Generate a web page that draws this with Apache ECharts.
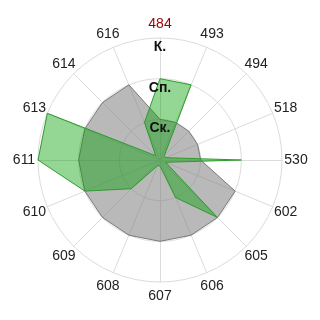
<!DOCTYPE html>
<html><head><meta charset="utf-8">
<script src="https://cdn.jsdelivr.net/npm/echarts@6/dist/echarts.min.js"></script>
<style>html,body{margin:0;padding:0;background:#fff}#c{width:320px;height:320px}</style>
</head><body><div id="c"></div>
<script>
const categories = ['484','493','494','518','530','602','605','606','607','608','609','610','611','613','614','616'];
const grayValues = [1,1,1,1,1,2,2,2,2,2,2,2,2,2,2,2];
const greenValues = [2,2,0.15,0.15,2,0.15,2,1,0.15,0.15,1,2,3,3,0.15,1];
const levelLabels = ['', 'Ск.', 'Сп.', 'К.'];
const highlightCategory = '484';

// radar places indicators counter-clockwise; reorder so the picture runs clockwise
const order = [0].concat(categories.map((_, i) => i).slice(1).reverse());
const pick = arr => order.map(i => arr[i]);

const common = {
  center: ['50%', '50%'],
  radius: 122,
  startAngle: 90,
  shape: 'circle',
  splitNumber: 3,
  nameGap: 14
};

const chart = echarts.init(document.getElementById('c'), null, {renderer: 'canvas'});
chart.setOption({
  animation: false,
  backgroundColor: '#fff',
  radar: [
    Object.assign({}, common, {
      z: 1,
      indicator: pick(categories).map(c => {
        const ind = {name: c, min: 0, max: 3};
        if (c === highlightCategory) ind.color = '#990000';
        return ind;
      }),
      axisName: {color: '#222', fontSize: 14, fontFamily: 'Liberation Sans, Arial, sans-serif', align: 'center', verticalAlign: 'middle'},
      splitArea: {show: false},
      splitLine: {lineStyle: {color: '#dcdcdc', width: 1}},
      axisLine: {lineStyle: {color: '#dcdcdc', width: 1}},
      axisTick: {show: false},
      axisLabel: {show: false}
    }),
    Object.assign({}, common, {
      z: 10,
      indicator: pick(categories).map((c, k) => {
        const ind = {name: '', min: 0, max: 3};
        if (k === 0) ind.axisLabel = {show: true};
        return ind;
      }),
      axisName: {show: false},
      splitArea: {show: false},
      splitLine: {show: false},
      axisLine: {show: false},
      axisTick: {show: false},
      axisLabel: {
        show: false, margin: 0, align: 'center', verticalAlign: 'top', padding: [2, 0, 0, 0],
        fontSize: 14, fontWeight: 'bold', color: '#111', fontFamily: 'Liberation Sans, Arial, sans-serif',
        showMinLabel: true, showMaxLabel: true,
        formatter: v => levelLabels[Math.round(v)] || ''
      }
    })
  ],
  series: [{
    type: 'radar',
    radarIndex: 0,
    symbol: 'none',
    silent: true,
    z: 3,
    data: [
      {value: pick(grayValues), lineStyle: {color: '#777', width: 1}, itemStyle: {color: '#777'},
       areaStyle: {color: 'rgba(128,128,128,0.55)', opacity: 1}},
      {value: pick(greenValues), lineStyle: {color: '#3a9a3a', width: 1}, itemStyle: {color: '#3a9a3a'},
       areaStyle: {color: 'rgba(0,160,0,0.42)', opacity: 1}}
    ]
  }]
});
</script>
</body></html>
